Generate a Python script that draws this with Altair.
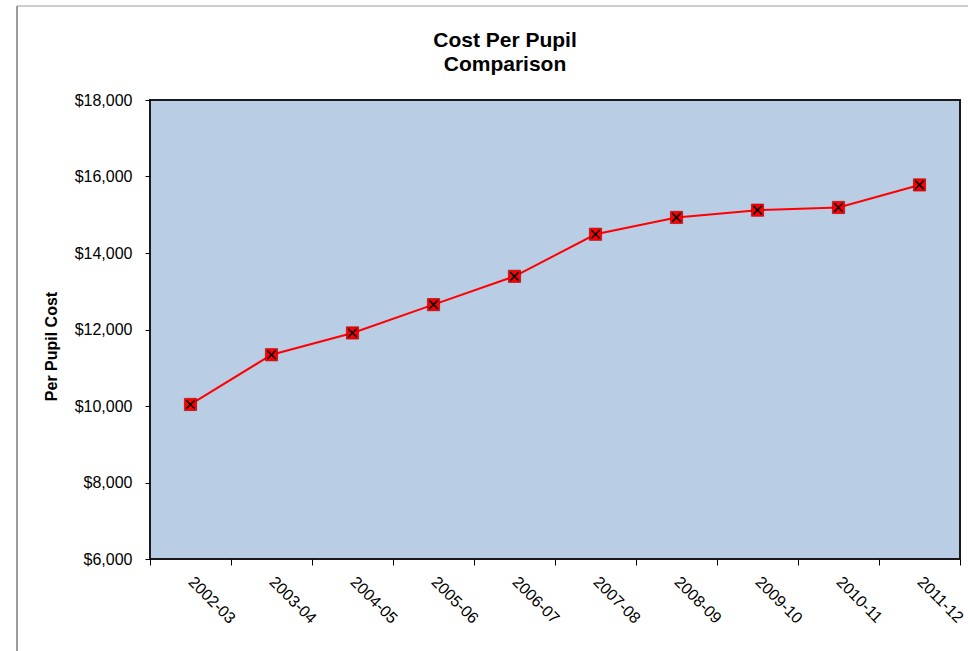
import altair as alt
import pandas as pd

# Per-pupil cost by school year
years = ["2002-03", "2003-04", "2004-05", "2005-06", "2006-07",
         "2007-08", "2008-09", "2009-10", "2010-11", "2011-12"]
cost = [10040, 11340, 11910, 12650, 13390, 14490, 14930, 15120, 15190, 15780]
y_ticks = [6000, 8000, 10000, 12000, 14000, 16000, 18000]

df = pd.DataFrame({"year": years, "cost": cost})
frame_df = pd.DataFrame({"k": [0]})

FONT = "Liberation Sans"

x_enc = alt.X(
    "year:N",
    sort=years,
    bandPosition=0.5,
    scale=alt.Scale(type="band", paddingInner=0, paddingOuter=0),
    axis=alt.Axis(
        title=None,
        grid=False,
        labelAngle=45,
        labelAlign="left",
        labelBaseline="middle",
        labelFontSize=16,
        labelFont=FONT,
        labelColor="#000000",
        labelPadding=14,
        tickBand="extent",
        tickSize=6,
        tickColor="#000000",
        domain=False,
    ),
)

y_enc = alt.Y(
    "cost:Q",
    scale=alt.Scale(domain=[6000, 18000], nice=False, zero=False),
    axis=alt.Axis(
        values=y_ticks,
        format="$,.0f",
        grid=False,
        title="Per Pupil Cost",
        titleFont=FONT,
        titleFontSize=16,
        titleFontWeight="bold",
        titleColor="#000000",
        titleX=-99,
        titleY=246,
        titleAngle=270,
        titleAlign="center",
        titleBaseline="middle",
        labelFontSize=16,
        labelFont=FONT,
        labelColor="#000000",
        labelPadding=13,
        tickSize=5,
        tickColor="#000000",
        domain=False,
    ),
)

base = alt.Chart(df).encode(x=x_enc, y=y_enc)

line = base.mark_line(color="#ff0000", strokeWidth=2)

squares = base.mark_point(
    shape="square", filled=True, size=150,
    fill="#ff0000", stroke="#a00000", strokeWidth=0.6, opacity=1,
)

crosses = base.mark_point(
    shape="M-1,-1L1,1M-1,1L1,-1", filled=False, size=72,
    stroke="#000000", strokeWidth=1.6, opacity=1,
)

# outer chart-area border (top and left edges)
frame_top = alt.Chart(frame_df).mark_rule(color="#bdbdbd", strokeWidth=1.5).encode(
    x=alt.value(-133), x2=alt.value(820), y=alt.value(-94)
)
frame_left = alt.Chart(frame_df).mark_rule(color="#7a7a7a", strokeWidth=1.5).encode(
    x=alt.value(-133), y=alt.value(-94), y2=alt.value(560)
)

chart = (
    alt.layer(frame_top, frame_left, line, squares, crosses)
    .properties(
        width=810,
        height=459,
        background="#ffffff",
        autosize=alt.AutoSizeParams(type="none"),
        padding={"left": 150, "top": 100, "right": 8, "bottom": 92},
        title=alt.TitleParams(
            text=["Cost Per Pupil", "Comparison"],
            font=FONT,
            fontSize=21,
            fontWeight="bold",
            color="#000000",
            lineHeight=24,
            anchor="middle",
            frame="group",
            dx=-50,
            offset=-70,
        ),
    )
    .configure_view(fill="#b9cde5", stroke="#1a1a1a", strokeWidth=2)
)

chart.save("out.html", embed_options={"renderer": "svg", "actions": False})
